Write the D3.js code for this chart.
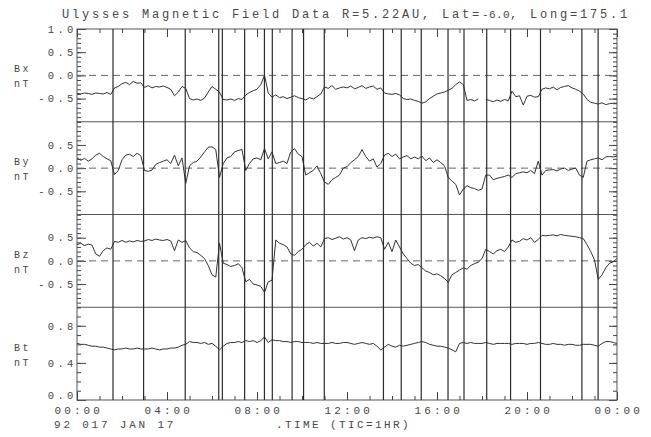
<!DOCTYPE html>
<html>
<head>
<meta charset="utf-8">
<script src="https://cdn.jsdelivr.net/npm/d3@7"></script>
<style>
body { margin: 0; background: #fff; }
svg text { font-family: "Liberation Mono", "DejaVu Sans Mono", monospace; fill: #474747; }
</style>
</head>
<body>
<svg id="chart" width="651" height="437"></svg>
<script>

//****DATA
//one sample every 10 min, 00:00 -> 24:00 (145 values per component), nT
var stepMin = 10;

var bx = [
	-0.39,-0.40,-0.38,-0.39,-0.41,-0.38,  //00h
	-0.39,-0.40,-0.37,-0.41,-0.27,-0.24,  //01h
	-0.18,-0.15,-0.20,-0.13,-0.17,-0.16,  //02h
	-0.26,-0.22,-0.27,-0.24,-0.25,-0.23,  //03h
	-0.26,-0.30,-0.44,-0.36,-0.24,-0.28,  //04h
	-0.50,-0.53,-0.51,-0.54,-0.49,-0.36,  //05h
	-0.24,-0.30,-0.36,-0.52,-0.53,-0.51,  //06h
	-0.54,-0.50,-0.52,-0.42,-0.37,-0.33,  //07h
	-0.30,-0.20, 0.00,-0.38,-0.47,-0.42,  //08h
	-0.48,-0.46,-0.50,-0.47,-0.44,-0.48,  //09h
	-0.50,-0.53,-0.48,-0.51,-0.46,-0.40,  //10h
	-0.25,-0.28,-0.22,-0.30,-0.27,-0.25,  //11h
	-0.27,-0.23,-0.29,-0.26,-0.22,-0.28,  //12h
	-0.25,-0.23,-0.30,-0.27,-0.38,-0.40,  //13h
	-0.41,-0.39,-0.42,-0.50,-0.52,-0.51,  //14h
	-0.54,-0.56,-0.60,-0.57,-0.50,-0.45,  //15h
	-0.40,-0.38,-0.36,-0.32,-0.28,-0.20,  //16h
	-0.14,-0.20,-0.54,-0.52,-0.55,-0.51,  //17h
	 null,-0.52,-0.54,-0.57,-0.53,-0.56,  //18h
	-0.52,-0.55,-0.34,-0.46,-0.44,-0.64,  //19h
	-0.45,-0.43,-0.47,-0.46,-0.30,-0.27,  //20h
	-0.29,-0.25,-0.31,-0.26,-0.24,-0.22,  //21h
	-0.27,-0.30,-0.34,-0.40,-0.52,-0.58,  //22h
	-0.60,-0.62,-0.59,-0.63,-0.61,-0.60,  //23h
	-0.60
];

var by = [
	 0.22, 0.17, 0.21, 0.15, 0.20, 0.28,
	 0.32, 0.25, 0.20, 0.16,-0.14,-0.05,
	 0.18, 0.28, 0.30, 0.25, 0.32, 0.27,
	-0.05,-0.07,-0.04, 0.08, 0.12, 0.15,
	 0.18, 0.10, 0.28, 0.05, 0.22,-0.33,
	 0.05, 0.12, 0.15, 0.24, 0.35, 0.45,
	 0.46, 0.40,-0.20, 0.10, 0.22, 0.25,
	 0.35, 0.38, 0.40,-0.05, 0.10, 0.20,
	 0.22, 0.18, 0.42, 0.20, 0.35, 0.10,
	 0.12, 0.15, 0.10, 0.35, 0.42, 0.30,
	 0.25,-0.15,-0.10,-0.05, 0.05,-0.12,
	-0.30,-0.35,-0.25,-0.20,-0.15, 0.00,
	 0.03, 0.12, 0.18, 0.25, 0.40, 0.25,
	 0.15, 0.20, 0.02, 0.10, 0.28, 0.32,
	 0.25, 0.30, 0.20, 0.24, 0.27, 0.20,
	 0.24, 0.20, 0.26, 0.16, 0.22, 0.12,
	 0.18, 0.12, 0.05,-0.20,-0.28,-0.35,
	-0.58,-0.45,-0.38,-0.42,-0.44,-0.48,
	-0.45,-0.15,-0.15,-0.25,-0.22,-0.20,
	-0.18,-0.15,-0.20,-0.12,-0.10,-0.08,
	-0.10,-0.05,-0.12, 0.15,-0.15,-0.05,
	-0.04,-0.03,-0.06,-0.02, 0.00,-0.05,
	-0.02, 0.00,-0.15,-0.20, 0.15, 0.18,
	 0.20, 0.22, 0.18, 0.24, 0.25, 0.24,
	 0.26
];

var bz = [
	 0.35, 0.38, 0.33, 0.36, 0.34, 0.15,
	 0.10, 0.22, 0.28, 0.25, 0.42, 0.40,
	 0.44, 0.40, 0.43, 0.41, 0.44, 0.42,
	 0.43, 0.46, 0.44, 0.47, 0.45, 0.44,
	 0.46, 0.43, 0.22, 0.45, 0.40, 0.44,
	 0.28, 0.20, 0.18, 0.12, 0.05,-0.10,
	-0.30,-0.35, 0.38,-0.05,-0.08,-0.12,
	-0.10,-0.06,-0.15,-0.45,-0.40,-0.50,
	-0.52,-0.55,-0.68,-0.45,-0.42, 0.45,
	 0.38, 0.35, 0.30, 0.15, 0.12, 0.20,
	 0.25, 0.35, 0.40, 0.32, 0.38, 0.30,
	 0.48, 0.50, 0.46, 0.49, 0.52, 0.47,
	 0.50, 0.45, 0.22, 0.45, 0.50, 0.48,
	 0.51, 0.49, 0.52, 0.50, 0.25, 0.40,
	 0.20, 0.45, 0.30, 0.15, 0.05,-0.05,
	-0.10,-0.08,-0.15,-0.22,-0.25,-0.30,
	-0.28,-0.32,-0.38,-0.46,-0.30,-0.25,
	-0.20,-0.15,-0.18,-0.10,-0.06,-0.03,
	 0.05, 0.25, 0.20, 0.15, 0.22, 0.25,
	 0.20, 0.30, 0.45, 0.40, 0.42, 0.48,
	 0.45, 0.50, 0.40, 0.46, 0.55, 0.54,
	 0.55, 0.56, 0.54, 0.57, 0.55, 0.54,
	 0.53, 0.52, 0.50, 0.48, 0.35, 0.20,
	 0.02,-0.40,-0.30,-0.15,-0.05,-0.02,
	 0.05
];

var bt = [
	0.61,0.60,0.60,0.59,0.58,0.58,
	0.57,0.57,0.56,0.55,0.54,0.55,
	0.55,0.56,0.55,0.55,0.56,0.55,
	0.55,0.55,0.56,0.55,0.54,0.55,
	0.55,0.56,0.56,0.57,0.59,0.60,
	0.63,0.62,0.62,0.61,0.62,0.60,
	0.61,0.58,0.54,0.58,0.61,0.62,
	0.62,0.63,0.62,0.64,0.63,0.64,
	0.62,0.64,0.68,0.62,0.65,0.64,
	0.64,0.63,0.63,0.62,0.63,0.63,
	0.62,0.62,0.62,0.61,0.62,0.61,
	0.61,0.61,0.62,0.61,0.61,0.62,
	0.62,0.61,0.60,0.61,0.62,0.61,
	0.60,0.61,0.58,0.54,0.57,0.60,
	0.58,0.57,0.59,0.58,0.59,0.60,
	0.61,0.62,0.63,0.62,0.60,0.59,
	0.58,0.58,0.57,0.56,0.54,0.52,
	0.61,0.62,0.61,0.62,0.61,0.61,
	0.61,0.62,0.61,0.60,0.61,0.61,
	0.61,0.61,0.60,0.61,0.61,0.61,
	0.60,0.61,0.61,0.62,0.61,0.60,
	0.60,0.61,0.60,0.60,0.59,0.60,
	0.60,0.59,0.59,0.60,0.60,0.60,
	0.59,0.58,0.61,0.63,0.63,0.62,
	0.61
];

//hours of the vertical marker lines
var markHours = [1.60, 2.96, 4.81, 6.30, 6.46, 7.45, 8.33, 8.68, 9.56, 10.07, 10.99,
	13.62, 14.41, 15.30, 16.49, 17.20, 18.21, 19.27, 20.60, 22.44, 23.16];

//labels
var panelNames = ["Bx", "By", "Bz", "Bt"];
var unitName = "nT";
var bxTicks = [1.0, 0.5, 0.0, -0.5];
var byTicks = [0.5, 0.0, -0.5];
var bzTicks = [0.5, 0.0, -0.5];
var btTicks = [0.8, 0.4, 0.0];
var hourTicks = [0, 4, 8, 12, 16, 20, 24];
var hourLabels = ["00:00", "04:00", "08:00", "12:00", "16:00", "20:00", "00:00"];
var titleA = "Ulysses Magnetic Field Data  R=5.22AU, Lat=";
var titleB = "-6.0";
var titleC = ", Long=175.1";
var dateText = "92 017 JAN 17";
var timeText = ".TIME (TIC=1HR)";


//chart preferences
var svg = d3.select("#chart"),
	margin = {top: 29, right: 34, bottom: 37, left: 77},
	width = +svg.attr("width") - margin.left - margin.right,
	height = +svg.attr("height") - margin.top - margin.bottom,
	panelH = height / 4,
	ink = "#333",
	charW = 9.6;

var panels = [
	{name: panelNames[0], values: bx, domain: [-1, 1], labels: bxTicks, zero: true},
	{name: panelNames[1], values: by, domain: [-1, 1], labels: byTicks, zero: true},
	{name: panelNames[2], values: bz, domain: [-1, 1], labels: bzTicks, zero: true},
	{name: panelNames[3], values: bt, domain: [0, 1], labels: btTicks, zero: false}
];

//****SCALES
var x = d3.scaleLinear()
	.domain([0, 24])
	.range([margin.left, margin.left + width]);

var fmt = function(v) { return (v < 0 ? "-" : "") + Math.abs(v).toFixed(1); };

//****DRAW
panels.forEach(function(p, k) {
	var top = margin.top + k * panelH;

	var y = d3.scaleLinear()
		.domain(p.domain)
		.range([top + panelH, top]);

	var minor = d3.range(p.domain[0], p.domain[1] + 0.001, 0.1);

	//left ticks (pointing in)
	svg.append("g")
		.attr("transform", "translate(" + margin.left + ",0)")
		.call(d3.axisRight(y).tickValues(minor).tickSize(4).tickFormat(""))
		.call(function(g) { g.select(".domain").remove(); });
	svg.append("g")
		.attr("transform", "translate(" + margin.left + ",0)")
		.call(d3.axisRight(y).tickValues(p.labels).tickSize(9).tickFormat(""))
		.call(function(g) { g.select(".domain").remove(); });

	//right ticks
	svg.append("g")
		.attr("transform", "translate(" + (margin.left + width) + ",0)")
		.call(d3.axisLeft(y).tickValues(minor).tickSize(4).tickFormat(""))
		.call(function(g) { g.select(".domain").remove(); });
	svg.append("g")
		.attr("transform", "translate(" + (margin.left + width) + ",0)")
		.call(d3.axisLeft(y).tickValues(p.labels).tickSize(8).tickFormat(""))
		.call(function(g) { g.select(".domain").remove(); });

	//tick labels (the one sitting on the bottom edge is lifted a bit)
	svg.selectAll(null)
		.data(p.labels)
		.enter()
		.append("text")
		.attr("x", function(d) { return 72.5 - (fmt(d).length - 1) * charW - 5.5; })
		.attr("y", function(d) { return y(d) - (d === p.domain[0] ? 5 : 0); })
		.attr("dy", "0.36em")
		.style("font-size", "10.5px")
		.style("letter-spacing", "3.3px")
		.text(fmt);

	//component / unit labels
	var mid = top + panelH / 2;
	svg.append("text")
		.attr("x", 14).attr("y", mid - 3)
		.style("font-size", "10px").style("letter-spacing", "2.4px")
		.text(p.name);
	svg.append("text")
		.attr("x", 14).attr("y", mid + 12)
		.style("font-size", "10px").style("letter-spacing", "2.4px")
		.text(unitName);

	//dashed zero line
	if (p.zero) {
		svg.append("line")
			.attr("x1", margin.left).attr("x2", margin.left + width)
			.attr("y1", y(0)).attr("y2", y(0))
			.attr("stroke", "#666")
			.attr("stroke-width", 1)
			.attr("stroke-dasharray", "7,5");
	}

	//panel separator
	if (k > 0) {
		svg.append("line")
			.attr("x1", margin.left).attr("x2", margin.left + width)
			.attr("y1", top).attr("y2", top)
			.attr("stroke", "#555")
			.attr("stroke-width", 1);
	}

	//data line
	var line = d3.line()
		.defined(function(d) { return d != null; })
		.x(function(d, i) { return x(i * stepMin / 60); })
		.y(function(d) { return y(d); });

	svg.append("path")
		.datum(p.values)
		.attr("fill", "none")
		.attr("stroke", ink)
		.attr("stroke-width", 1)
		.attr("stroke-linejoin", "round")
		.attr("d", line);
});

//frame
svg.append("rect")
	.attr("x", margin.left).attr("y", margin.top)
	.attr("width", width).attr("height", height)
	.attr("fill", "none")
	.attr("stroke", "#555")
	.attr("stroke-width", 1);

//hour ticks, top (hanging) and bottom (standing)
var allHours = d3.range(0, 25, 1);
[[d3.axisBottom, margin.top], [d3.axisTop, margin.top + height]].forEach(function(a) {
	svg.append("g")
		.attr("transform", "translate(0," + a[1] + ")")
		.call(a[0](x).tickValues(allHours).tickSize(4).tickFormat(""))
		.call(function(g) { g.select(".domain").remove(); });
	svg.append("g")
		.attr("transform", "translate(0," + a[1] + ")")
		.call(a[0](x).tickValues(hourTicks).tickSize(8).tickFormat(""))
		.call(function(g) { g.select(".domain").remove(); });
});

svg.selectAll(".tick line").attr("stroke", "#444");

//vertical marker lines
svg.selectAll("line.mark")
	.data(markHours)
	.enter()
	.append("line")
	.attr("class", "mark")
	.attr("x1", function(d) { return x(d); })
	.attr("x2", function(d) { return x(d); })
	.attr("y1", margin.top)
	.attr("y2", margin.top + height)
	.attr("stroke", "#2b2b2b")
	.attr("stroke-width", 1.2);

//x labels
svg.selectAll("text.hour")
	.data(hourTicks)
	.enter()
	.append("text")
	.attr("class", "hour")
	.attr("x", function(d) { return x(d) - 22.5; })
	.attr("y", 414)
	.style("font-size", "11px")
	.style("letter-spacing", "3.1px")
	.text(function(d, i) { return hourLabels[i]; });

svg.append("text")
	.attr("x", 54).attr("y", 428)
	.style("font-size", "11px").style("letter-spacing", "2.8px")
	.text(dateText);

svg.append("text")
	.attr("x", 276).attr("y", 428)
	.style("font-size", "11px").style("letter-spacing", "2.4px")
	.text(timeText);

//title
var title = svg.append("text")
	.attr("x", 62).attr("y", 18)
	.style("font-size", "12px")
	.style("letter-spacing", "2.8px");
title.append("tspan").text(titleA);
title.append("tspan").style("letter-spacing", "0.4px").style("font-size", "11px").text(titleB);
title.append("tspan").text(titleC);

</script>
</body>
</html>
